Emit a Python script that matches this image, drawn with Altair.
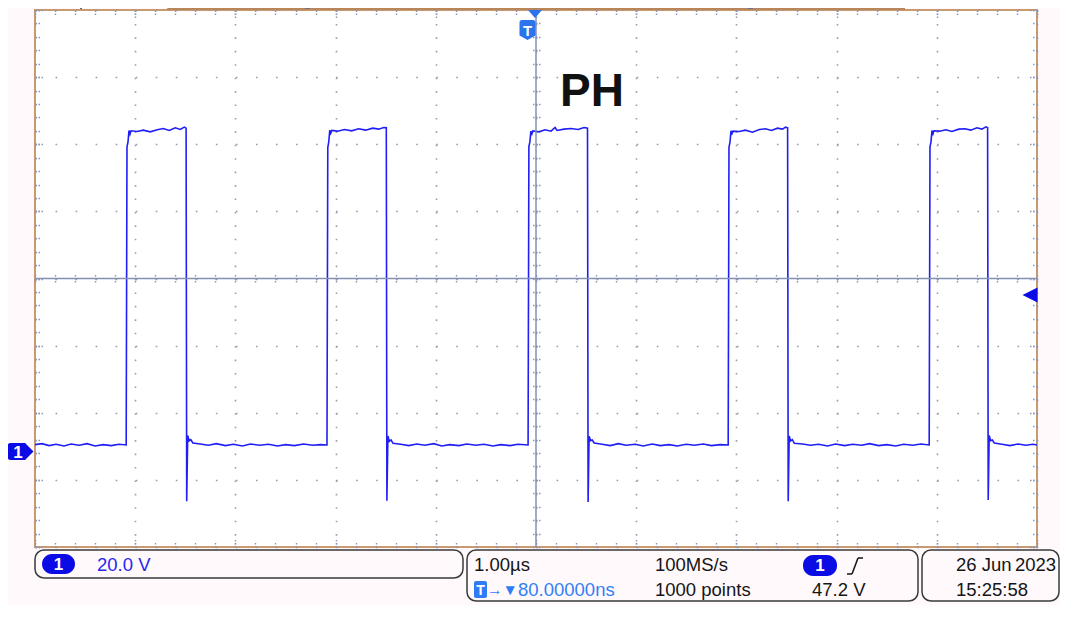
import altair as alt
import pandas as pd

# ---------------- waveform (time in µs, voltage in V)
time_us = [
    -5.00, -4.93, -4.86, -4.79, -4.71, -4.64, -4.56, -4.48, -4.40, -4.32, -4.24, -4.16, -4.09,
    -4.082, -4.072, -4.062, -4.052, -4.042,
    -3.98, -3.92, -3.85, -3.78, -3.72, -3.66, -3.60, -3.55, -3.51, -3.492,
    -3.486, -3.476, -3.462, -3.445, -3.425,
    -3.35, -3.27, -3.19, -3.10, -3.02, -2.93, -2.85, -2.76, -2.67, -2.58, -2.50, -2.41, -2.32, -2.23, -2.15, -2.086,
    -2.078, -2.068, -2.058, -2.048, -2.038,
    -1.98, -1.91, -1.84, -1.77, -1.70, -1.63, -1.57, -1.52, -1.494,
    -1.488, -1.478, -1.464, -1.447, -1.427,
    -1.35, -1.27, -1.19, -1.11, -1.02, -0.94, -0.86, -0.77, -0.69, -0.60, -0.52, -0.43, -0.35, -0.26, -0.18, -0.079,
    -0.071, -0.061, -0.051, -0.041, -0.031,
    0.03, 0.09, 0.15, 0.19, 0.21, 0.28, 0.35, 0.42, 0.48, 0.514,
    0.520, 0.530, 0.544, 0.561, 0.581,
    0.66, 0.74, 0.82, 0.90, 0.99, 1.07, 1.16, 1.24, 1.33, 1.41, 1.50, 1.58, 1.67, 1.75, 1.84, 1.918,
    1.926, 1.936, 1.946, 1.956, 1.966,
    2.03, 2.09, 2.16, 2.23, 2.29, 2.35, 2.41, 2.46, 2.49, 2.511,
    2.517, 2.527, 2.541, 2.558, 2.578,
    2.66, 2.74, 2.82, 2.91, 2.99, 3.08, 3.16, 3.25, 3.33, 3.42, 3.50, 3.59, 3.67, 3.76, 3.84, 3.924,
    3.932, 3.942, 3.952, 3.962, 3.972,
    4.03, 4.09, 4.15, 4.22, 4.28, 4.34, 4.40, 4.45, 4.49, 4.507,
    4.513, 4.523, 4.537, 4.554, 4.574,
    4.65, 4.73, 4.81, 4.89, 4.96, 5.00,
]
volts = [
    1.9, 2.2, 1.6, 2.0, 1.5, 2.1, 1.7, 2.2, 1.5, 1.9, 1.6, 2.0, 1.8,
    90.6, 92.0, 95.5, 94.4, 95.4,
    95.2, 95.6, 95.1, 95.7, 96.1, 95.5, 96.3, 95.8, 96.5, 96.2,
    -15.0, 4.6, 3.0, 3.4, 2.4,
    2.1, 1.7, 2.2, 1.6, 2.0, 1.5, 2.1, 1.7, 2.0, 1.5, 1.9, 1.6, 2.1, 1.7, 1.9, 1.8,
    90.4, 92.2, 95.6, 94.7, 95.5,
    95.3, 95.8, 95.4, 96.0, 95.6, 96.2, 95.9, 96.4, 96.3,
    -14.8, 4.5, 2.9, 3.3, 2.3,
    2.0, 1.6, 2.1, 1.7, 2.2, 1.5, 1.9, 1.6, 2.1, 1.7, 2.0, 1.5, 1.9, 1.6, 2.0, 1.8,
    90.7, 92.1, 95.3, 94.5, 95.4,
    95.1, 95.7, 95.3, 96.4, 95.5, 95.9, 96.1, 95.8, 96.4, 96.2,
    -15.2, 4.4, 3.1, 3.3, 2.4,
    2.0, 1.6, 2.2, 1.7, 2.0, 1.5, 2.1, 1.6, 1.9, 1.5, 2.0, 1.7, 2.1, 1.6, 1.9, 1.8,
    90.5, 92.0, 95.4, 94.6, 95.3,
    95.2, 95.6, 95.0, 95.8, 96.0, 95.5, 96.2, 95.9, 96.5, 96.3,
    -15.0, 4.5, 3.0, 3.4, 2.3,
    2.1, 1.7, 2.0, 1.5, 2.1, 1.6, 2.0, 1.7, 2.2, 1.6, 1.9, 1.5, 2.0, 1.7, 2.1, 1.8,
    90.6, 92.1, 95.5, 94.5, 95.4,
    95.3, 95.7, 95.2, 95.9, 96.0, 95.6, 96.3, 95.9, 96.6, 96.4,
    -14.6, 4.6, 3.1, 3.3, 2.4,
    2.0, 1.6, 2.1, 1.7, 2.0, 1.8,
]

# ---------------- screen settings / readouts
X_MIN, X_MAX = -5.0, 5.0          # 1.00 µs/div, 10 divisions
V_PER_DIV = 20.0                  # 20.0 V/div, 8 divisions
Y_MIN = -28.6
Y_MAX = Y_MIN + 8 * V_PER_DIV
Y_MID = Y_MIN + 4 * V_PER_DIV
TRIG_LEVEL = 47.2

label_ph = "PH"
ch_num = "1"
ch1_scale = "20.0 V"
timebase = "1.00µs"
sample_rate = "100MS/s"
trig_marks = "→▼"
trig_pos = "80.00000ns"
record_len = "1000 points"
trig_level = "47.2 V"
date_day = "26 Jun"
date_year = "2023"
time_str = "15:25:58"

W, H = 1002, 537
FRAME = "#C99A6E"
TRACE = "#1F1FF5"
CENTER = "#8591B3"
DOT = "#979CB0"
TICK = "#8E96B2"
BLUE = "#0B0BE6"
TBLUE = "#2B74EE"
FONT = "Liberation Sans"

x_major = [X_MIN + i for i in range(11)]
x_minor = [round(X_MIN + 0.2 * i, 4) for i in range(51)]
y_major = [round(Y_MIN + V_PER_DIV * i, 4) for i in range(9)]
y_minor = [round(Y_MIN + V_PER_DIV / 5 * i, 4) for i in range(41)]

wave = pd.DataFrame({"t": time_us, "v": volts, "i": list(range(len(time_us)))})
center_df = pd.DataFrame({"t": [0.0], "v": [Y_MID]})
one = pd.DataFrame({"k": [0]})

xs = alt.Scale(domain=[X_MIN, X_MAX], nice=False, zero=False)
ys = alt.Scale(domain=[Y_MIN, Y_MAX], nice=False, zero=False)


def tick_axis(orient, values, size, offset):
    return alt.Axis(orient=orient, values=values, tickSize=size, offset=offset,
                    labels=False, domain=False, grid=False, ticks=True,
                    tickColor=TICK, tickWidth=1.4, tickDash=[1.5, 1.5])


trace = alt.Chart(wave).mark_line(color=TRACE, strokeWidth=1.6, clip=True).encode(
    x=alt.X("t:Q", scale=xs, title=None,
            axis=alt.Axis(orient="bottom", values=x_major, grid=True, gridColor=DOT,
                          gridWidth=1.6, gridDash=[1.6, H / 40 - 1.6], ticks=False,
                          labels=False, domain=False)),
    y=alt.Y("v:Q", scale=ys, title=None,
            axis=alt.Axis(orient="left", values=y_major, grid=True, gridColor=DOT,
                          gridWidth=1.6, gridDash=[1.6, W / 50 - 1.6], ticks=False,
                          labels=False, domain=False)),
    order=alt.Order("i:Q"),
)

vrule = alt.Chart(center_df).mark_rule(color=CENTER, strokeWidth=1.5).encode(
    x=alt.X("t:Q", scale=xs, title=None, axis=tick_axis("top", x_minor, 5, -H)))
hrule = alt.Chart(center_df).mark_rule(color=CENTER, strokeWidth=1.5).encode(
    y=alt.Y("v:Q", scale=ys, title=None, axis=tick_axis("right", y_minor, 5, -W)))


def dummy(xax, yax):
    return alt.Chart(center_df).mark_point(opacity=0).encode(
        x=alt.X("t:Q", scale=xs, title=None, axis=xax),
        y=alt.Y("v:Q", scale=ys, title=None, axis=yax))


d1 = dummy(tick_axis("bottom", x_minor, 5, -H), tick_axis("left", y_minor, 5, -W))
d2 = dummy(tick_axis("bottom", x_minor, 8, -(H / 2 + 4)), tick_axis("left", y_minor, 8, -(W / 2 + 4)))
d3 = dummy(tick_axis("top", x_major, 9, -H), tick_axis("right", y_major, 9, -W))
d4 = dummy(tick_axis("bottom", x_major, 9, -H), tick_axis("left", y_major, 9, -W))


def txt(s, x, y, color="#151515", size=18.5, weight="normal", align="left"):
    return alt.Chart(one).mark_text(text=s, font=FONT, fontSize=size, fontWeight=weight,
                                    align=align, baseline="alphabetic", color=color).encode(
        x=alt.value(x), y=alt.value(y))


def box(x, x2, y, y2, **kw):
    return alt.Chart(one).mark_rect(**kw).encode(
        x=alt.value(x), x2=alt.value(x2), y=alt.value(y), y2=alt.value(y2))


def seg(x, y, x2, y2, color, width):
    return alt.Chart(one).mark_rule(color=color, strokeWidth=width).encode(
        x=alt.value(x), y=alt.value(y), x2=alt.value(x2), y2=alt.value(y2))


def sym(path, size, x, y, color):
    return alt.Chart(one).mark_point(shape=path, size=size, filled=True, color=color,
                                     opacity=1, strokeWidth=0).encode(
        x=alt.value(x), y=alt.value(y))


decor = [
    # record-view bar above the graticule
    seg(133, -1.5, 870, -1.5, "#B9855A", 3),
    seg(133, -5, 133, 0, "#B9855A", 1.5),
    seg(46, -5, 46, -1, "#333333", 1.5),
    box(270, 275, -5, -1, fill="#6E7590"),
    box(713, 718, -5, -1, fill="#6E7590"),
    # title
    txt(label_ph, 525, 96, color="#111111", size=46, weight="bold"),
    # channel 1 ground marker
    sym("M-0.75,-0.65 Q-1,-0.65 -1,-0.4 L-1,0.4 Q-1,0.65 -0.75,0.65 L0.35,0.65 L1,0 L0.35,-0.65 Z",
        676, -14.5, 441.5, BLUE),
    txt(ch_num, -17, 448, color="white", size=17, weight="bold", align="center"),
    # trigger position markers
    sym("M-1,-0.57 L1,-0.57 L0,0.57 Z", 196, 500, 4, TBLUE),
    sym("circle", 40, 500, -5, TBLUE),
    sym("M-0.8,-0.75 Q-0.8,-1 -0.55,-1 L0.55,-1 Q0.8,-1 0.8,-0.75 L0.8,0.55 L0,1 L-0.8,0.55 Z",
        400, 492.5, 20, TBLUE),
    txt("T", 492.5, 26, color="white", size=15, weight="bold", align="center"),
    # trigger level marker
    sym("M1,-1 L-1,0 L1,1 Z", 225, 995, 285, BLUE),
    # status boxes
    box(0, 428, 540, 568, fill="transparent", stroke="#3A3A3A", strokeWidth=1.5, cornerRadius=9),
    box(432, 883, 540, 591, fill="transparent", stroke="#3A3A3A", strokeWidth=1.5, cornerRadius=9),
    box(887, 1024, 540, 591, fill="transparent", stroke="#3A3A3A", strokeWidth=1.5, cornerRadius=9),
    box(7, 40, 544, 564, fill=BLUE, cornerRadius=10),
    txt(ch_num, 23.5, 560, color="white", size=17, weight="bold", align="center"),
    txt(ch1_scale, 62, 561, color="#2626EE"),
    txt(timebase, 439, 561),
    txt(sample_rate, 620, 561),
    box(768, 802, 545, 566, fill=BLUE, cornerRadius=10),
    txt(ch_num, 785, 561, color="white", size=17, weight="bold", align="center"),
    seg(812, 564, 817, 564, "#151515", 1.5),
    seg(817, 564, 823, 548, "#151515", 1.5),
    seg(823, 548, 828, 548, "#151515", 1.5),
    box(439, 452, 571, 588, fill="#2F7DF5", cornerRadius=2),
    txt("T", 445.5, 585, color="white", size=14, weight="bold", align="center"),
    txt(trig_marks, 452, 585, color="#2F7DF5", size=15.5),
    txt(trig_pos, 483, 586, color="#3380F5"),
    txt(record_len, 620, 586),
    txt(trig_level, 777, 586),
    txt(date_day, 921, 561),
    txt(date_year, 980, 561),
    txt(time_str, 921, 586),
]

chart = alt.layer(trace, vrule, hrule, d1, d2, d3, d4, *decor).resolve_axis(
    x="independent", y="independent"
).properties(
    width=W, height=H,
    padding={"left": 27, "top": 2, "right": 23, "bottom": 58},
    autosize=alt.AutoSizeParams(type="none"),
    background="#FFF9FC",
).configure_view(stroke=FRAME, strokeWidth=2, fill="white")

chart.save("out.html", embed_options={"renderer": "svg", "actions": False})
